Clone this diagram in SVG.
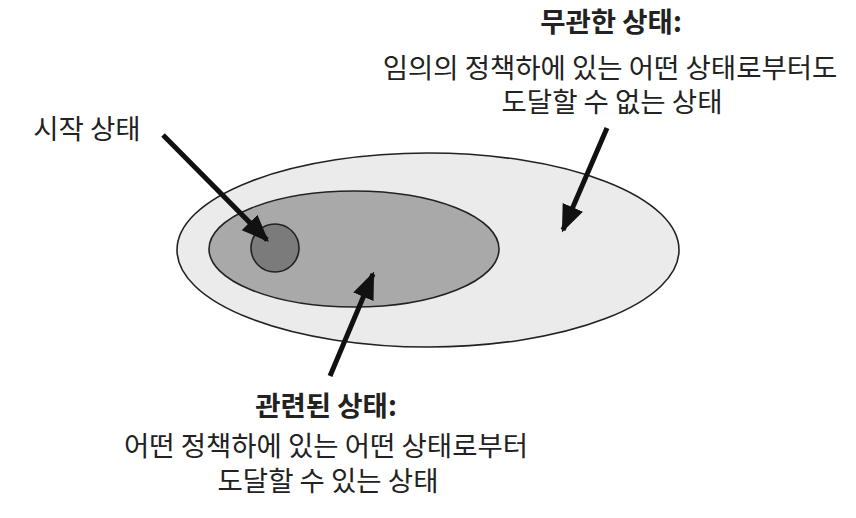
<svg xmlns="http://www.w3.org/2000/svg" width="856" height="518" viewBox="0 0 856 518">
<style>
text{font-family:"Noto Sans CJK KR","Noto Sans",sans-serif;font-size:27.5px;fill:#222;text-anchor:middle}
.b{font-weight:bold}
.set{stroke:#222;stroke-width:1.6}
.arr{stroke:#111;stroke-width:5;fill:none;marker-end:url(#ah)}
</style>
<defs>
<marker id="ah" viewBox="0 0 10 10" refX="9" refY="5" markerWidth="5.5" markerHeight="5.5" orient="auto" markerUnits="strokeWidth">
<path d="M0,1 L10,5 L0,9 Z" fill="#111"/>
</marker>
</defs>
<rect width="856" height="518" fill="#fff"/>
<g id="irrelevant">
<ellipse class="set" cx="428" cy="250" rx="251" ry="97" fill="#ebebeb"/>
</g>
<g id="relevant">
<ellipse class="set" cx="354" cy="249" rx="145" ry="58" fill="#a9a9a9"/>
</g>
<g id="start">
<circle class="set" cx="275" cy="248" r="24" fill="#7b7b7b"/>
</g>
<g id="connectors">
<line class="arr" x1="163" y1="135" x2="267" y2="240"/>
<line class="arr" x1="607" y1="128" x2="563" y2="230"/>
<line class="arr" x1="330" y1="376" x2="373" y2="274"/>
</g>
<g id="label-start">
<text x="87" y="139">시작 상태</text>
</g>
<g id="label-irrelevant">
<text class="b" x="611" y="32">무관한 상태:</text>
<text x="610" y="78">임의의 정책하에 있는 어떤 상태로부터도</text>
<text x="612" y="112">도달할 수 없는 상태</text>
</g>
<g id="label-relevant">
<text class="b" x="326" y="416">관련된 상태:</text>
<text x="326" y="456">어떤 정책하에 있는 어떤 상태로부터</text>
<text x="328" y="491">도달할 수 있는 상태</text>
</g>
</svg>
